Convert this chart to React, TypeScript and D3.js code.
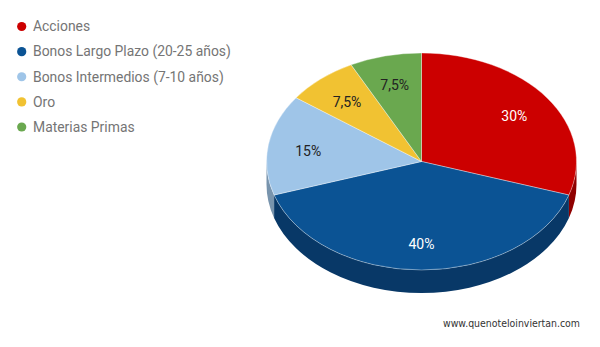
import React from "react";
import * as d3 from "d3";

const categories = [
  "Acciones",
  "Bonos Largo Plazo (20-25 años)",
  "Bonos Intermedios (7-10 años)",
  "Oro",
  "Materias Primas",
];
const values = [30, 40, 15, 7.5, 7.5];
const labels = ["30%", "40%", "15%", "7,5%", "7,5%"];
const colors = ["#cc0000", "#0b5394", "#9fc5e8", "#f1c232", "#6aa84f"];
const sideColors = ["#8f0000", "#083867", "#7894ad", "#a98822", "#4a7637"];
const labelColors = ["#ffffff", "#ffffff", "#222222", "#222222", "#222222"];

const W = 600;
const H = 347;
const cx = 421.5;
const cy = 161.5;
const rx = 155;
const ry = 108.5;
const depth = 23;

function pt(a: number, dy = 0): [number, number] {
  return [cx + rx * Math.sin(a), cy - ry * Math.cos(a) + dy];
}

function topPath(a0: number, a1: number) {
  const [x0, y0] = pt(a0);
  const [x1, y1] = pt(a1);
  const large = a1 - a0 > Math.PI ? 1 : 0;
  return `M${cx},${cy}L${x0},${y0}A${rx},${ry} 0 ${large} 1 ${x1},${y1}Z`;
}

function sidePath(a0: number, a1: number) {
  const s = Math.max(a0, Math.PI / 2);
  const e = Math.min(a1, (3 * Math.PI) / 2);
  if (e <= s) return null;
  const [x0, y0] = pt(s);
  const [x1, y1] = pt(e);
  return `M${x0},${y0}A${rx},${ry} 0 0 1 ${x1},${y1}L${x1},${y1 + depth}A${rx},${ry} 0 0 0 ${x0},${y0 + depth}Z`;
}

export default function App() {
  const pie = d3
    .pie<number>()
    .sort(null)
    .value((d) => d)
    .startAngle(0)
    .endAngle(2 * Math.PI);
  const arcs = pie(values);
  const labelR = 0.74;
  const legendY = d3.scalePoint<number>().domain(d3.range(categories.length)).range([26.5, 127]);

  return (
    <svg
      width={W}
      height={H}
      style={{ position: "fixed", left: 0, top: 0, background: "#fff" }}
      fontFamily="Roboto, 'Noto Sans', sans-serif"
    >
      <rect width={W} height={H} fill="#fff" />
      {categories.map((c, i) => (
        <g key={c}>
          <circle cx={21.7} cy={legendY(i)!} r={4.6} fill={colors[i]} />
          <text x={33} y={legendY(i)!} dy="0.35em" fontSize={13.9} fill="#757575">
            {c}
          </text>
        </g>
      ))}
      {arcs.map((a, i) => {
        const p = sidePath(a.startAngle, a.endAngle);
        return p ? <path key={"s" + i} d={p} fill={sideColors[i]} /> : null;
      })}
      {arcs.map((a, i) => (
        <path
          key={"t" + i}
          d={topPath(a.startAngle, a.endAngle)}
          fill={colors[i]}
          stroke="#ffffff"
          strokeWidth={0.6}
          strokeOpacity={0.6}
        />
      ))}
      {arcs.map((a, i) => {
        const m = (a.startAngle + a.endAngle) / 2;
        const x = cx + rx * labelR * Math.sin(m);
        const y = cy + 2 - ry * labelR * Math.cos(m);
        return (
          <text
            key={"l" + i}
            x={x}
            y={y}
            dy="0.35em"
            textAnchor="middle"
            fontSize={14}
            fill={labelColors[i]}
          >
            {labels[i]}
          </text>
        );
      })}
      <text
        x={443}
        y={323}
        dy="0.35em"
        fontSize={10}
        fontFamily="'DejaVu Sans', Verdana, sans-serif"
        fill="#333"
        textLength={137}
        lengthAdjust="spacingAndGlyphs"
      >
        www.quenoteloinviertan.com
      </text>
    </svg>
  );
}
